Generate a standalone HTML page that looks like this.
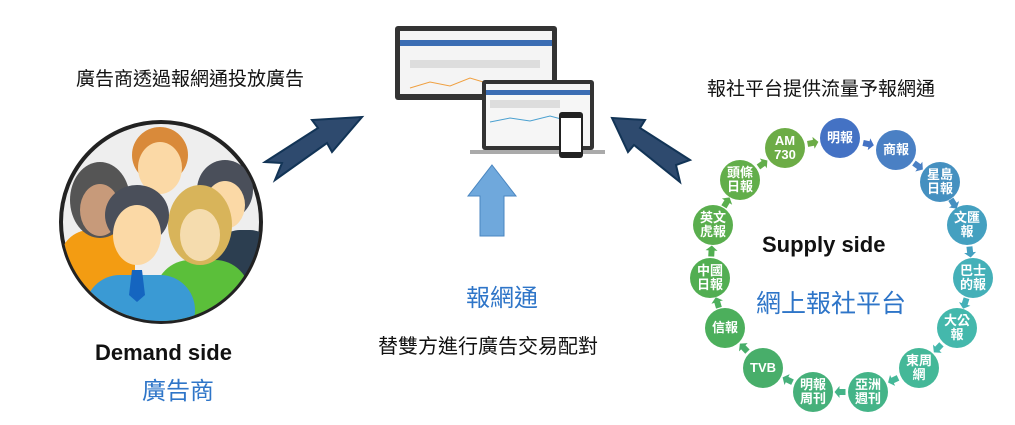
<!DOCTYPE html>
<html><head><meta charset="utf-8"><style>
body{margin:0;width:1015px;height:425px;background:#fff;overflow:hidden;font-family:"Liberation Sans","Noto Sans CJK TC",sans-serif;position:relative}
.t{position:absolute;white-space:nowrap}
.c{position:absolute;width:40px;height:40px;margin:-1px 0 0 -1px;border-radius:50%;color:#fff;font-weight:bold;font-size:13px;line-height:14px;display:flex;align-items:center;justify-content:center;text-align:center}
</style></head><body>
<div class="t" style="left:76px;top:64px;font-size:19px;color:#111">廣告商透過報網通投放廣告</div>
<div class="t" style="left:707px;top:74px;font-size:19px;color:#111">報社平台提供流量予報網通</div>
<div class="t" style="left:95px;top:340px;font-size:22px;font-weight:bold;color:#111">Demand side</div>
<div class="t" style="left:142px;top:371px;font-size:24px;color:#2e75c8">廣告商</div>
<div class="t" style="left:466px;top:278px;font-size:24px;color:#2e75c8">報網通</div>
<div class="t" style="left:378px;top:330px;font-size:20px;color:#111">替雙方進行廣告交易配對</div>
<div class="t" style="left:762px;top:232px;font-size:22px;font-weight:bold;color:#111">Supply side</div>
<div class="t" style="left:756px;top:284px;font-size:25px;color:#2e75c8">網上報社平台</div>

<svg width="1015" height="425" style="position:absolute;left:0;top:0">
<defs><clipPath id="cp"><circle cx="161" cy="222" r="99"/></clipPath></defs>
<circle cx="161" cy="222" r="100" fill="#eee" stroke="#222" stroke-width="4"/>
<g clip-path="url(#cp)">
<rect x="60" y="230" width="75" height="100" rx="30" fill="#f39c12"/>
<ellipse cx="100" cy="200" rx="30" ry="38" fill="#555"/>
<ellipse cx="100" cy="210" rx="20" ry="26" fill="#c79a7a"/>
<rect x="215" y="230" width="60" height="100" rx="25" fill="#2c3e50"/>
<ellipse cx="225" cy="190" rx="28" ry="30" fill="#4a4f5a"/>
<ellipse cx="225" cy="205" rx="20" ry="24" fill="#fbd9a6"/>
<ellipse cx="160" cy="155" rx="28" ry="28" fill="#d98a3a"/>
<ellipse cx="160" cy="168" rx="22" ry="26" fill="#fbd9a6"/>
<rect x="155" y="260" width="95" height="80" rx="35" fill="#5bbf3a"/>
<ellipse cx="200" cy="225" rx="32" ry="40" fill="#d8b45a"/>
<ellipse cx="200" cy="235" rx="20" ry="26" fill="#f5dcae"/>
<rect x="85" y="275" width="110" height="70" rx="35" fill="#3a9ad4"/>
<ellipse cx="137" cy="215" rx="32" ry="30" fill="#4a4f5a"/>
<ellipse cx="137" cy="235" rx="24" ry="30" fill="#fbd9a6"/>
<polygon points="132,270 142,270 145,295 137,302 129,295" fill="#1565c0"/>
</g>
<polygon points="265,162 318,128 312,120 362,117 332,152 327,143 275,180 282,163" fill="#2e4a6e" stroke="#123456" stroke-width="2"/>
<polygon points="690,160 640,128 645,120 612,118 628,152 634,145 680,182 676,165" fill="#2e4a6e" stroke="#123456" stroke-width="2"/>
<polygon points="492,165 516,196 504,196 504,236 480,236 480,196 468,196" fill="#6fa8dc" stroke="#4a86c0"/>
<rect x="395" y="26" width="162" height="74" rx="3" fill="#333"/>
<rect x="400" y="31" width="152" height="63" fill="#f4f4f4"/>
<rect x="400" y="40" width="152" height="6" fill="#3b6db3"/>
<rect x="410" y="60" width="130" height="8" fill="#ddd"/>
<polyline points="410,88 430,82 450,86 470,78 490,84" stroke="#f0a040" fill="none"/>
<rect x="482" y="80" width="112" height="70" rx="3" fill="#333"/>
<rect x="486" y="84" width="104" height="62" fill="#f6f6f6"/>
<rect x="486" y="90" width="104" height="5" fill="#3b6db3"/>
<rect x="490" y="100" width="70" height="8" fill="#ddd"/>
<polyline points="490,122 510,118 530,121 550,116 565,120" stroke="#4aa0d0" fill="none"/>
<rect x="470" y="150" width="135" height="4" fill="#aaa"/>
<rect x="559" y="112" width="24" height="46" rx="3" fill="#222"/>
<rect x="561" y="118" width="20" height="34" fill="#fff"/>
<g id="arr"></g>
</svg>

<div class="c" style="left:821px;top:119px;background:#4472c4">明報</div>
<div class="c" style="left:877px;top:131px;background:#4a80c4">商報</div>
<div class="c" style="left:921px;top:163px;background:#4590c0">星島<br>日報</div>
<div class="c" style="left:948px;top:206px;background:#44a0c0">文匯<br>報</div>
<div class="c" style="left:954px;top:259px;background:#44b0b8">巴士<br>的報</div>
<div class="c" style="left:938px;top:309px;background:#44b8ac">大公<br>報</div>
<div class="c" style="left:900px;top:349px;background:#44b898">東周<br>網</div>
<div class="c" style="left:849px;top:373px;background:#44b488">亞洲<br>週刊</div>
<div class="c" style="left:794px;top:373px;background:#46b07a">明報<br>周刊</div>
<div class="c" style="left:744px;top:349px;background:#48ae6a">TVB</div>
<div class="c" style="left:706px;top:309px;background:#4caf5c">信報</div>
<div class="c" style="left:691px;top:259px;background:#52ae52">中國<br>日報</div>
<div class="c" style="left:694px;top:206px;background:#5aae4e">英文<br>虎報</div>
<div class="c" style="left:721px;top:161px;background:#62ae4a">頭條<br>日報</div>
<div class="c" style="left:766px;top:129px;background:#6cac46">AM<br>730</div>
<script>
var p=[[840,138,"#4472c4"],[896,150,"#4a80c4"],[940,182,"#4590c0"],[967,225,"#44a0c0"],[973,278,"#44b0b8"],[957,328,"#44b8ac"],[919,368,"#44b898"],[868,392,"#44b488"],[813,392,"#46b07a"],[763,368,"#48ae6a"],[725,328,"#4caf5c"],[710,278,"#52ae52"],[713,225,"#5aae4e"],[740,180,"#62ae4a"],[785,148,"#6cac46"]];
var s="";
for(var i=0;i<p.length;i++){var a=p[i],b=p[(i+1)%p.length];var mx=(a[0]+b[0])/2,my=(a[1]+b[1])/2;var ang=Math.atan2(b[1]-a[1],b[0]-a[0])*180/Math.PI;
s+='<g transform="translate('+mx+','+my+') rotate('+ang+')"><polygon points="-5,-3 1,-3 1,-6 6,0 1,6 1,3 -5,3" fill="'+a[2]+'"/></g>';}
document.getElementById("arr").innerHTML=s;
</script>
</body></html>
